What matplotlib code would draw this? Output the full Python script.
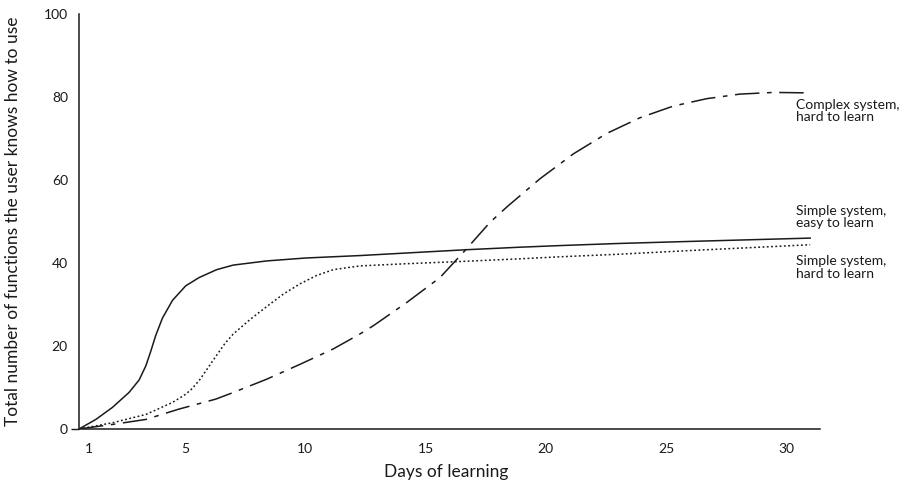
import matplotlib.pyplot as plt

plt.rcParams['font.family'] = ['Lato', 'DejaVu Sans']

# values
days_easy = [0.58, 1.28, 1.97, 2.66, 3.08, 3.36, 3.57, 3.77, 4.05, 4.47, 5.02, 5.58, 6.31, 7.0, 8.39,
             10.0, 12.3, 14.8, 16.7, 18.9, 20.6, 23, 26, 28.5, 31.0]
easy = [0, 2.3, 5.2, 8.8, 11.8, 15.2, 18.8, 22.5, 26.7, 31.0, 34.5, 36.5, 38.4, 39.5, 40.5,
        41.2, 41.8, 42.6, 43.2, 43.8, 44.2, 44.7, 45.2, 45.6, 46.0]

days_hard = [0.58, 1.97, 3.36, 4.47, 5.0, 5.3, 5.62, 6.0, 6.31, 6.65, 7.0, 7.7, 8.39, 9.08, 9.78,
             10.47, 11.16, 12.27, 14.1, 16.6, 18.9, 20.6, 23, 26, 28.5, 31.0]
hard = [0, 1.5, 3.5, 6.4, 8.3, 9.8, 12.0, 15.2, 17.8, 20.6, 22.9, 26.4, 29.5, 32.5, 35.0,
        37.0, 38.4, 39.3, 39.8, 40.4, 41.0, 41.5, 42.1, 43.0, 43.7, 44.4]

days_complex = [0.58, 1.97, 3.36, 4.74, 6.27, 7.0, 8.39, 9.78, 11.16, 12.27, 12.83, 14.22, 15.6,
                16.64, 17.68, 18.4, 19.07, 19.76, 21.15, 22.53, 23.92, 25.3, 26.7, 28.08, 29.47, 30.85]
complex_ = [0, 1.1, 2.3, 4.8, 7.2, 8.8, 12.0, 15.6, 19.3, 22.9, 24.9, 30.5, 36.5,
            43.0, 49.8, 53.6, 56.9, 60.3, 66.3, 71.2, 75.0, 77.8, 79.6, 80.7, 81.1, 81.0]

labels = ["Complex system,\nhard to learn", "Simple system,\neasy to learn", "Simple system,\nhard to learn"]
label_y = [79.6, 54.0, 41.9]

fig = plt.figure(figsize=(9.06, 4.92), dpi=100)
ax = fig.add_axes([79 / 906, 1 - 429 / 492, (820 - 79) / 906, (429 - 14) / 492])

ink = '#1a1a1a'
ax.plot(days_easy, easy, color=ink, lw=1.1, linestyle='-')
ax.plot(days_hard, hard, color=ink, lw=1.1, linestyle=(0, (1.2, 1.6)))
ax.plot(days_complex, complex_, color=ink, lw=1.1, linestyle=(0, (16, 5, 3, 5)))

for t, y in zip(labels, label_y):
    ax.text(30.42, y, t, fontsize=10, va='top', ha='left', color=ink, linespacing=1.05)

ax.set_xlim(0.58, 31.41)
ax.set_ylim(0, 100)
ax.set_xticks([1, 5, 10, 15, 20, 25, 30])
ax.set_yticks([0, 20, 40, 60, 80, 100])
ax.tick_params(axis='both', length=0, labelsize=10, colors=ink)
ax.tick_params(axis='x', pad=10)
ax.tick_params(axis='y', pad=8)
t0 = ax.yaxis.get_major_ticks()[0]
t0.tick1line.set_markersize(6)
t0.tick1line.set_markeredgewidth(1)

for s in ['top', 'right']:
    ax.spines[s].set_visible(False)
for s in ['left', 'bottom']:
    ax.spines[s].set_linewidth(1.1)
    ax.spines[s].set_color(ink)

ax.set_xlabel("Days of learning", fontsize=12.5, color=ink)
ax.set_ylabel("Total number of functions the user knows how to use", fontsize=12.5, color=ink)
ax.xaxis.set_label_coords(0.495, -0.085)
ax.yaxis.set_label_coords(-0.078, 0.5)

fig.savefig('out.png', dpi=100)
